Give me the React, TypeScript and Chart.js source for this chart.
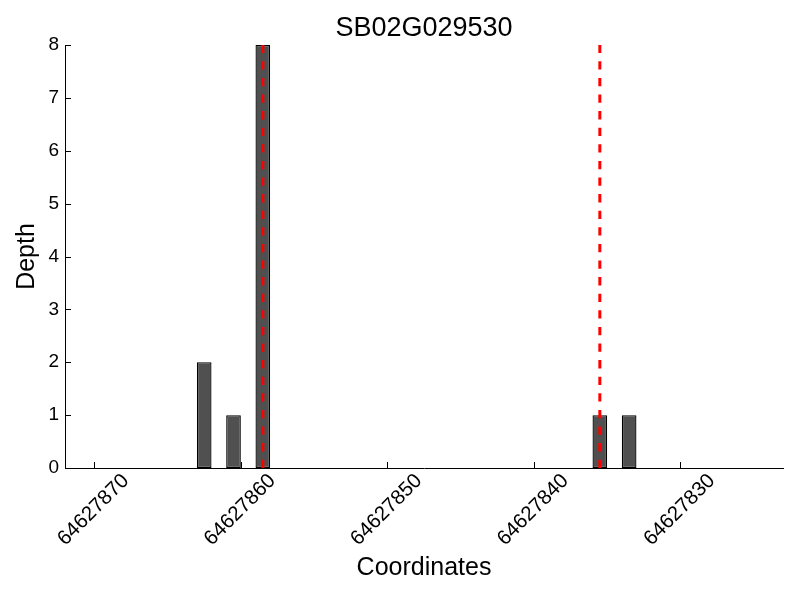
import React, { useEffect, useRef } from "react";
import { Chart, registerables } from "chart.js";

Chart.register(...registerables);

// ---- data ----
const TITLE = "SB02G029530";
const X_LABEL = "Coordinates";
const Y_LABEL = "Depth";

// bin centres (coordinates) and their read depth
const coordinates = [64627862.5, 64627860.5, 64627858.5, 64627835.5, 64627833.5];
const depth = [2, 1, 8, 1, 1];

// gene boundary markers (red dashed lines)
const markerCoordinates = [64627858.5, 64627835.5];

const xTickValues = [64627870, 64627860, 64627850, 64627840, 64627830];
const yTickValues = [0, 1, 2, 3, 4, 5, 6, 7, 8];
const xRange = [64627823, 64627872];
const yRange = [0, 8];

const FONT = "'Liberation Sans', Arial, Helvetica, sans-serif";

const innerTicks = {
  id: "innerTicks",
  afterDatasetsDraw(chart: any) {
    const { ctx, chartArea } = chart;
    const x = chart.scales.x;
    const y = chart.scales.y;
    ctx.save();
    ctx.strokeStyle = "#000";
    ctx.lineWidth = 1;
    ctx.beginPath();
    x.ticks.forEach((_t: any, i: number) => {
      const px = Math.round(x.getPixelForTick(i)) + 0.5;
      ctx.moveTo(px, chartArea.bottom);
      ctx.lineTo(px, chartArea.bottom - 6);
    });
    y.ticks.forEach((_t: any, i: number) => {
      const py = Math.round(y.getPixelForTick(i)) + 0.5;
      ctx.moveTo(chartArea.left, py);
      ctx.lineTo(chartArea.left + 6, py);
    });
    ctx.stroke();
    ctx.restore();
  },
};

export default function App() {
  const canvasRef = useRef<HTMLCanvasElement | null>(null);

  useEffect(() => {
    if (!canvasRef.current) return;
    const chart = new Chart(canvasRef.current, {
      type: "bar",
      data: {
        datasets: [
          ...markerCoordinates.map((c) => ({
            type: "line" as const,
            data: [
              { x: c, y: yRange[0] },
              { x: c, y: yRange[1] },
            ],
            borderColor: "#ff0000",
            borderWidth: 3,
            borderDash: [8.3, 8.3],
            pointRadius: 0,
            fill: false,
            tension: 0,
            order: 0,
          })),
          {
            type: "bar" as const,
            data: coordinates.map((c, i) => ({ x: c, y: depth[i] })),
            backgroundColor: "#505050",
            borderColor: "#000000",
            borderWidth: 1.3,
            borderSkipped: false,
            inflateAmount: 0,
            categoryPercentage: 1,
            barPercentage: 0.5,
            order: 1,
          },
        ],
      } as any,
      options: {
        responsive: false,
        animation: false,
        layout: { padding: { left: 0, right: 17, top: 0, bottom: 0 } },
        plugins: {
          legend: { display: false },
          tooltip: { enabled: false },
          title: {
            display: true,
            fullSize: false,
            text: TITLE,
            color: "#000",
            font: { family: FONT, size: 27, weight: "normal" },
            padding: { top: 12.6, bottom: 0 },
          },
        },
        scales: {
          x: {
            type: "linear",
            reverse: true,
            min: xRange[0],
            max: xRange[1],
            offset: false,
            grid: { display: false, drawTicks: false, tickLength: 0, offset: false },
            border: { display: true, color: "#000", width: 1, z: 1 },
            afterBuildTicks: (s: any) => {
              s.ticks = xTickValues.map((v) => ({ value: v }));
            },
            ticks: {
              autoSkip: false,
              minRotation: 45,
              maxRotation: 45,
              padding: 1,
              labelOffset: 31.5,
              color: "#000",
              font: { family: FONT, size: 20.5 },
              callback: (v: any) => String(v),
            },
            title: {
              display: true,
              text: X_LABEL,
              color: "#000",
              font: { family: FONT, size: 25 },
              padding: { top: 0, bottom: 17 },
            },
            afterFit: (s: any) => {
              s.height = 132;
            },
          },
          y: {
            type: "linear",
            min: yRange[0],
            max: yRange[1],
            grid: { display: false, drawTicks: false, tickLength: 0 },
            border: { display: true, color: "#000", width: 1, z: 1 },
            afterBuildTicks: (s: any) => {
              s.ticks = yTickValues.map((v) => ({ value: v }));
            },
            ticks: {
              padding: 6,
              color: "#000",
              font: { family: FONT, size: 19 },
              callback: (v: any) => String(v),
            },
            title: {
              display: true,
              text: Y_LABEL,
              color: "#000",
              font: { family: FONT, size: 25 },
              padding: { top: 12, bottom: 0 },
            },
            afterFit: (s: any) => {
              s.width = 65;
            },
          },
        },
      } as any,
      plugins: [innerTicks],
    });
    return () => chart.destroy();
  }, []);

  return (
    <div style={{ position: "absolute", left: 0, top: 0, width: 800, height: 600, background: "#fff" }}>
      <canvas ref={canvasRef} width={800} height={600} style={{ display: "block" }} />
    </div>
  );
}
